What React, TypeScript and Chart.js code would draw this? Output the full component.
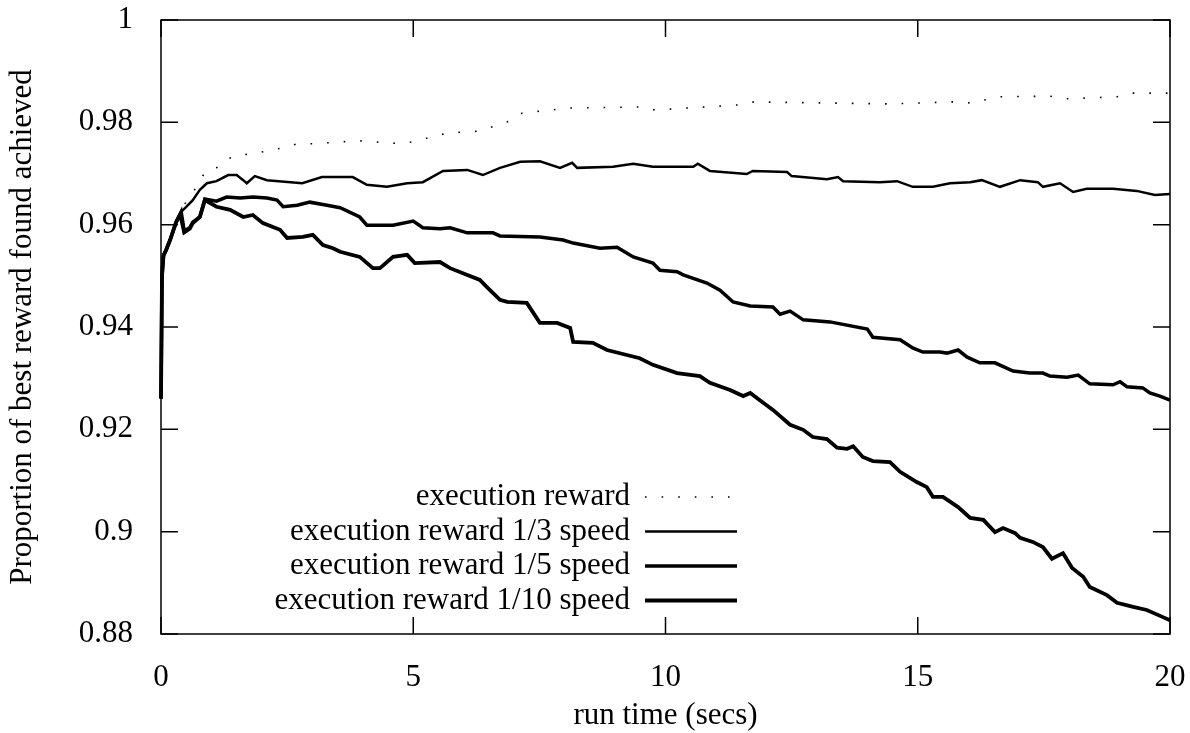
import React, { useEffect, useRef } from "react";
import { Chart, registerables } from "chart.js";

Chart.register(...registerables);

// ---- data ----
const seriesLabels = [
  "execution reward",
  "execution reward 1/3 speed",
  "execution reward 1/5 speed",
  "execution reward 1/10 speed",
];

const execX = [0, 0.02, 0.05, 0.1, 0.18, 0.3, 0.4, 0.57, 0.73, 0.87, 1.1, 1.25, 1.5, 1.8, 2.1, 2.4, 2.7, 3.0, 3.3, 3.9, 4.5, 4.8, 5.07, 5.67, 6.32, 6.92, 7.16, 7.51, 8.13, 9.47, 9.8, 11.44, 11.75, 14.45, 15.7, 16.04, 16.63, 17.62, 17.96, 18.95, 19.25, 20];
const execY = [0.926, 0.95, 0.954, 0.955, 0.957, 0.9605, 0.963, 0.9655, 0.9677, 0.9703, 0.9711, 0.9725, 0.9736, 0.9738, 0.9744, 0.975, 0.9758, 0.9758, 0.976, 0.9764, 0.976, 0.9758, 0.9764, 0.9779, 0.9783, 0.9803, 0.9818, 0.9822, 0.9828, 0.983, 0.9824, 0.9834, 0.984, 0.9836, 0.984, 0.9838, 0.985, 0.9851, 0.9846, 0.985, 0.9857, 0.9857];

const speed3X = [0, 0.02, 0.05, 0.1, 0.18, 0.3, 0.4, 0.5, 0.63, 0.77, 0.91, 1.1, 1.33, 1.5, 1.63, 1.7, 1.86, 2.1, 2.8, 3.19, 3.8, 4.08, 4.48, 4.88, 5.19, 5.59, 6.07, 6.38, 6.72, 7.12, 7.51, 7.91, 8.15, 8.25, 8.96, 9.36, 9.75, 10.55, 10.64, 10.88, 11.61, 11.73, 12.41, 12.5, 13.2, 13.42, 13.52, 14.25, 14.59, 14.9, 15.3, 15.64, 16.04, 16.27, 16.63, 17.03, 17.38, 17.48, 17.82, 18.08, 18.35, 18.87, 19.34, 19.7, 20];
const speed3Y = [0.926, 0.95, 0.954, 0.955, 0.957, 0.9605, 0.9625, 0.9635, 0.9648, 0.9668, 0.9681, 0.9685, 0.9697, 0.9697, 0.9687, 0.9681, 0.9695, 0.9687, 0.9681, 0.9693, 0.9693, 0.9678, 0.9674, 0.9681, 0.9683, 0.9705, 0.9707, 0.9697, 0.9711, 0.9723, 0.9724, 0.9711, 0.9721, 0.9711, 0.9713, 0.9719, 0.9713, 0.9713, 0.9719, 0.9705, 0.9699, 0.9705, 0.9703, 0.9695, 0.9689, 0.9693, 0.9685, 0.9683, 0.9685, 0.9674, 0.9674, 0.9681, 0.9683, 0.9687, 0.9674, 0.9687, 0.9683, 0.9674, 0.9681, 0.9664, 0.967, 0.967, 0.9666, 0.9658, 0.966];

const speed5X = [0, 0.02, 0.05, 0.1, 0.18, 0.3, 0.4, 0.46, 0.57, 0.63, 0.77, 0.87, 1.1, 1.3, 1.57, 1.82, 2.1, 2.3, 2.42, 2.7, 2.95, 3.29, 3.55, 3.94, 4.08, 4.6, 5.0, 5.19, 5.53, 5.73, 6.07, 6.58, 6.72, 7.51, 7.97, 8.17, 8.7, 9.04, 9.36, 9.75, 9.89, 10.23, 10.35, 10.82, 11.08, 11.34, 11.68, 12.13, 12.27, 12.47, 12.73, 13.26, 14.0, 14.11, 14.65, 14.9, 15.1, 15.44, 15.58, 15.8, 15.98, 16.23, 16.53, 16.89, 17.22, 17.48, 17.62, 17.96, 18.18, 18.41, 18.87, 19.01, 19.15, 19.46, 19.6, 19.8, 20];
const speed5Y = [0.926, 0.95, 0.954, 0.955, 0.957, 0.9605, 0.9625, 0.9588, 0.9594, 0.9605, 0.9615, 0.965, 0.9646, 0.9654, 0.9652, 0.9654, 0.9652, 0.9648, 0.9635, 0.9638, 0.9644, 0.9638, 0.9633, 0.9615, 0.9599, 0.9599, 0.9607, 0.9594, 0.9592, 0.9594, 0.9584, 0.9584, 0.9578, 0.9576, 0.957, 0.9564, 0.9554, 0.9556, 0.9537, 0.9525, 0.9511, 0.9508, 0.9502, 0.9486, 0.9472, 0.9449, 0.9441, 0.9439, 0.9425, 0.9431, 0.9414, 0.941, 0.9396, 0.938, 0.9375, 0.9359, 0.9351, 0.9351, 0.9349, 0.9355, 0.9341, 0.933, 0.933, 0.9314, 0.931, 0.931, 0.9304, 0.9302, 0.9306, 0.9289, 0.9287, 0.9293, 0.9283, 0.9281, 0.9271, 0.9265, 0.9257];

const speed10X = [0, 0.02, 0.05, 0.1, 0.18, 0.3, 0.38, 0.46, 0.57, 0.63, 0.77, 0.87, 1.1, 1.37, 1.63, 1.82, 2.02, 2.36, 2.5, 2.81, 3.01, 3.21, 3.41, 3.55, 3.94, 4.2, 4.34, 4.6, 4.88, 5.03, 5.53, 5.73, 6.32, 6.46, 6.72, 6.86, 7.25, 7.51, 7.85, 8.11, 8.17, 8.56, 8.84, 9.49, 9.75, 10.23, 10.68, 10.88, 11.28, 11.54, 11.68, 11.87, 12.13, 12.47, 12.73, 12.92, 13.2, 13.4, 13.6, 13.72, 13.91, 14.11, 14.45, 14.65, 14.98, 15.18, 15.3, 15.5, 15.8, 16.04, 16.3, 16.53, 16.69, 16.93, 17.03, 17.28, 17.48, 17.66, 17.88, 18.06, 18.28, 18.41, 18.75, 18.95, 19.27, 19.54, 19.86, 20];
const speed10Y = [0.926, 0.95, 0.954, 0.955, 0.957, 0.9605, 0.962, 0.9585, 0.9592, 0.9603, 0.9615, 0.9648, 0.9635, 0.9629, 0.9615, 0.9619, 0.9603, 0.959, 0.9574, 0.9576, 0.958, 0.956, 0.9554, 0.9547, 0.9537, 0.9515, 0.9515, 0.9537, 0.9541, 0.9525, 0.9527, 0.9515, 0.9492, 0.9478, 0.9453, 0.9449, 0.9447, 0.9408, 0.9408, 0.9398, 0.9371, 0.9369, 0.9355, 0.9339, 0.9326, 0.931, 0.9304, 0.9291, 0.9277, 0.9265, 0.9271, 0.9257, 0.9238, 0.9209, 0.9199, 0.9185, 0.9181, 0.9164, 0.9162, 0.9167, 0.9146, 0.9138, 0.9136, 0.9117, 0.9097, 0.9087, 0.9068, 0.9068, 0.9048, 0.9027, 0.9023, 0.8999, 0.9007, 0.8997, 0.8988, 0.898, 0.897, 0.8947, 0.8958, 0.8929, 0.8912, 0.8892, 0.8876, 0.8861, 0.8853, 0.8847, 0.8833, 0.8827];

const xMin = 0;
const xMax = 20;
const xStep = 5;
const yMin = 0.88;
const yMax = 1;
const yStep = 0.02;
const xTitle = "run time (secs)";
const yTitle = "Proportion of best reward found achieved";

const FONT = "'Liberation Serif', 'Times New Roman', serif";

const toPoints = (xs: number[], ys: number[]) => xs.map((x, i) => ({ x, y: ys[i] }));

const framePlugin = {
  id: "gnuplotFrame",
  beforeDatasetsDraw(chart: any) {
    const { ctx, chartArea, scales } = chart;
    const { left, right, top, bottom } = chartArea;
    const tl = 17;
    ctx.save();
    ctx.strokeStyle = "#000";
    ctx.lineWidth = 1.5;
    ctx.strokeRect(left, top, right - left, bottom - top);
    ctx.beginPath();
    scales.x.ticks.forEach((t: any) => {
      const px = scales.x.getPixelForValue(t.value);
      ctx.moveTo(px, bottom);
      ctx.lineTo(px, bottom - tl);
      ctx.moveTo(px, top);
      ctx.lineTo(px, top + tl);
    });
    scales.y.ticks.forEach((t: any) => {
      const py = scales.y.getPixelForValue(t.value);
      ctx.moveTo(left, py);
      ctx.lineTo(left + tl, py);
      ctx.moveTo(right, py);
      ctx.lineTo(right - tl, py);
    });
    ctx.stroke();
    ctx.restore();
  },
};

const legendPlugin = {
  id: "gnuplotKey",
  afterDatasetsDraw(chart: any) {
    const { ctx } = chart;
    const textRight = 630;
    const sampleLeft = 645;
    const sampleRight = 737;
    const firstY = 497;
    const rowH = 34.5;
    ctx.save();
    ctx.font = `31px ${FONT}`;
    ctx.textAlign = "right";
    ctx.textBaseline = "middle";
    chart.data.datasets.forEach((ds: any, i: number) => {
      const y = firstY + i * rowH;
      ctx.fillStyle = "#000";
      ctx.fillText(ds.label, textRight, y);
      ctx.beginPath();
      ctx.strokeStyle = ds.borderColor;
      ctx.lineWidth = ds.borderWidth;
      ctx.setLineDash(ds.borderDash || []);
      ctx.moveTo(sampleLeft, y);
      ctx.lineTo(sampleRight, y);
      ctx.stroke();
    });
    ctx.restore();
  },
};

export default function App() {
  const canvasRef = useRef<HTMLCanvasElement | null>(null);

  useEffect(() => {
    if (!canvasRef.current) return;
    const common = {
      fill: false,
      pointRadius: 0,
      tension: 0,
      borderColor: "#000",
      clip: 4,
      borderJoinStyle: "miter" as const,
    };
    const chart = new Chart(canvasRef.current, {
      type: "line",
      data: {
        datasets: [
          { ...common, label: seriesLabels[0], data: toPoints(execX, execY), borderWidth: 1.6, borderDash: [1.6, 15], borderCapStyle: "butt" },
          { ...common, label: seriesLabels[1], data: toPoints(speed3X, speed3Y), borderWidth: 2.5 },
          { ...common, label: seriesLabels[2], data: toPoints(speed5X, speed5Y), borderWidth: 3.5 },
          { ...common, label: seriesLabels[3], data: toPoints(speed10X, speed10Y), borderWidth: 3.8 },
        ],
      },
      options: {
        responsive: false,
        animation: false,
        events: [],
        layout: { padding: { top: 20, right: 20, bottom: 0, left: 0 } },
        plugins: {
          legend: { display: false },
          tooltip: { enabled: false },
        },
        scales: {
          x: {
            type: "linear",
            min: xMin,
            max: xMax,
            grid: { display: false },
            border: { display: false },
            ticks: {
              stepSize: xStep,
              color: "#000",
              padding: 17,
              maxRotation: 0,
              font: { family: FONT, size: 31 },
            },
            title: {
              display: true,
              text: xTitle,
              color: "#000",
              padding: { top: 0, bottom: 0 },
              font: { family: FONT, size: 31, lineHeight: 1.1 },
            },
            afterFit: (scale: any) => {
              scale.height = 99;
              scale.paddingLeft = 0;
              scale.paddingRight = 0;
            },
          },
          y: {
            type: "linear",
            min: yMin,
            max: yMax,
            grid: { display: false },
            border: { display: false },
            ticks: {
              stepSize: yStep,
              color: "#000",
              padding: 20,
              font: { family: FONT, size: 31 },
              callback: (v: any) => String(parseFloat(Number(v).toFixed(2))),
            },
            title: {
              display: true,
              text: yTitle,
              color: "#000",
              padding: { top: 4, bottom: 0 },
              font: { family: FONT, size: 31 },
            },
            afterFit: (scale: any) => {
              scale.width = 161;
              scale.paddingTop = 0;
              scale.paddingBottom = 0;
            },
          },
        },
      },
      plugins: [framePlugin, legendPlugin],
    });
    return () => chart.destroy();
  }, []);

  return (
    <div style={{ position: "absolute", left: 0, top: 0, width: 1190, height: 733, background: "#fff" }}>
      <canvas ref={canvasRef} width={1190} height={733} />
    </div>
  );
}
